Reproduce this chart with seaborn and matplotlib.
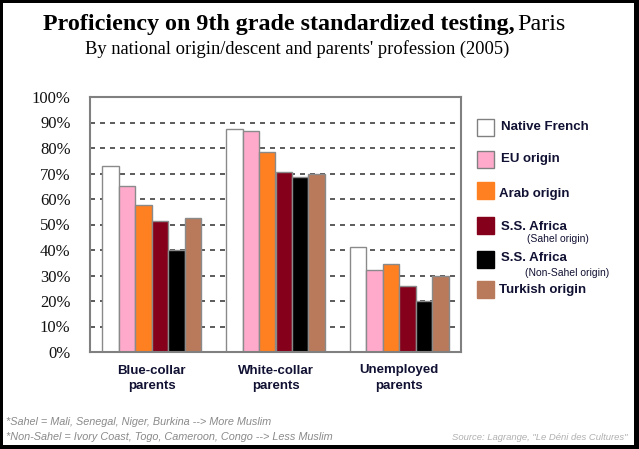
import matplotlib
matplotlib.use('Agg')
import matplotlib.pyplot as plt
import seaborn as sns
import pandas as pd
from matplotlib.patches import Rectangle
from matplotlib.ticker import PercentFormatter

groups = ['Blue-collar\nparents', 'White-collar\nparents', 'Unemployed\nparents']
origins = ['Native French', 'EU origin', 'Arab origin', 'S.S. Africa (Sahel)',
           'S.S. Africa (Non-Sahel)', 'Turkish origin']
blue_collar = [73, 65, 57.5, 51.5, 40, 52.5]
white_collar = [87.5, 86.5, 78.5, 70.5, 68.5, 70]
unemployed = [41, 32, 34.5, 26, 20, 30]
colors = ['#ffffff', '#ffaacb', '#ff8021', '#85001a', '#000000', '#b87a5a']

legend_labels = ['Native French', 'EU origin', 'Arab origin', 'S.S. Africa', 'S.S. Africa', 'Turkish origin']
legend_sub = ['', '', '', '(Sahel origin)', '(Non-Sahel origin)', '']

rows = []
for g, vals in zip(groups, [blue_collar, white_collar, unemployed]):
    for o, v in zip(origins, vals):
        rows.append({'group': g, 'origin': o, 'value': v})
df = pd.DataFrame(rows)

sns.set_style('white')
W, H = 639, 449
fig = plt.figure(figsize=(W / 100, H / 100), dpi=100)
fx = lambda x: x / W
fy = lambda y: 1 - y / H

ax = fig.add_axes([fx(90), fy(352), fx(461) - fx(90), fy(97) - fy(352)])
ax.set_axisbelow(True)
for yv in range(10, 100, 10):
    ax.axhline(yv, color='#404040', lw=1.2, ls=(0, (3, 3)), zorder=0)

sns.barplot(data=df, x='group', y='value', hue='origin', hue_order=origins,
            palette=colors, saturation=1, edgecolor='#8a8a8a', linewidth=1,
            width=0.8, legend=False, ax=ax, zorder=2)

ax.set_ylim(0, 100)
ax.set_xlim(-0.5, 2.5)
ax.set_yticks(range(0, 101, 10))
ax.yaxis.set_major_formatter(PercentFormatter(decimals=0))
ax.set_xlabel('')
ax.set_ylabel('')
for s in ax.spines.values():
    s.set_color('#808080')
    s.set_linewidth(1.5)
    s.set_visible(True)
ax.tick_params(axis='y', length=0, pad=14, labelsize=12)
ax.tick_params(axis='x', length=0, pad=9)
for t in ax.get_yticklabels():
    t.set_fontfamily('Liberation Serif')
    t.set_color('#111111')
for t in ax.get_xticklabels():
    t.set_fontfamily('Liberation Sans')
    t.set_fontweight('bold')
    t.set_fontsize(9.5)
    t.set_color('#111133')
    t.set_linespacing(1.35)

# legend drawn beside the plot
box_top = [119, 151, 182, 217, 251, 281]
text_x = [501, 501, 499, 501, 501, 499]
text_y = [127, 159, 194, 227, 258, 290]
sub_pos = [None, None, None, (527, 239), (525, 273), None]
for i, c in enumerate(colors):
    edge = '#808080' if i < 2 else c
    fig.add_artist(Rectangle((fx(477), fy(box_top[i] + 17)), fx(17), 17 / H,
                             transform=fig.transFigure, facecolor=c,
                             edgecolor=edge, lw=1))
    fig.text(fx(text_x[i]), fy(text_y[i]), legend_labels[i], fontsize=9.5,
             fontweight='bold', family='Liberation Sans', color='#111133',
             ha='left', va='center')
    if sub_pos[i]:
        fig.text(fx(sub_pos[i][0]), fy(sub_pos[i][1]), legend_sub[i], fontsize=7.5,
                 family='Liberation Sans', color='#111133', ha='left', va='center')

# titles
t1 = fig.text(fx(43), fy(30), 'Proficiency on 9th grade standardized testing,',
              fontsize=17.3, fontweight='bold', family='Liberation Serif',
              color='black', ha='left', va='baseline')
fig.canvas.draw()
bb = t1.get_window_extent()
fig.text(bb.x1 / W + fx(3), fy(30), 'Paris', fontsize=17.3,
         family='Liberation Serif', color='black', ha='left', va='baseline')
fig.text(fx(85), fy(54), "By national origin/descent and parents' profession (2005)",
         fontsize=13.3, family='Liberation Serif', color='black',
         ha='left', va='baseline')

# footnotes
fig.text(fx(6), fy(422), '*Sahel = Mali, Senegal, Niger, Burkina --> More Muslim',
         fontsize=7.85, style='italic', family='Liberation Sans', color='#8a8a8a',
         ha='left', va='center')
fig.text(fx(6), fy(437), '*Non-Sahel = Ivory Coast, Togo, Cameroon, Congo --> Less Muslim',
         fontsize=7.85, style='italic', family='Liberation Sans', color='#8a8a8a',
         ha='left', va='center')
fig.text(fx(628), fy(437), 'Source: Lagrange, "Le Déni des Cultures"',
         fontsize=6.8, style='italic', family='Liberation Sans', color='#b0b0b0',
         ha='right', va='center')

# black frame
for (x0, y0, w, h) in [(0, 0, 639, 3), (0, 0, 3, 449), (634, 0, 5, 449), (0, 445, 639, 4)]:
    fig.add_artist(Rectangle((fx(x0), fy(y0 + h)), fx(w), h / H,
                             transform=fig.transFigure, facecolor='black', lw=0))

fig.savefig('out.png', dpi=100)
